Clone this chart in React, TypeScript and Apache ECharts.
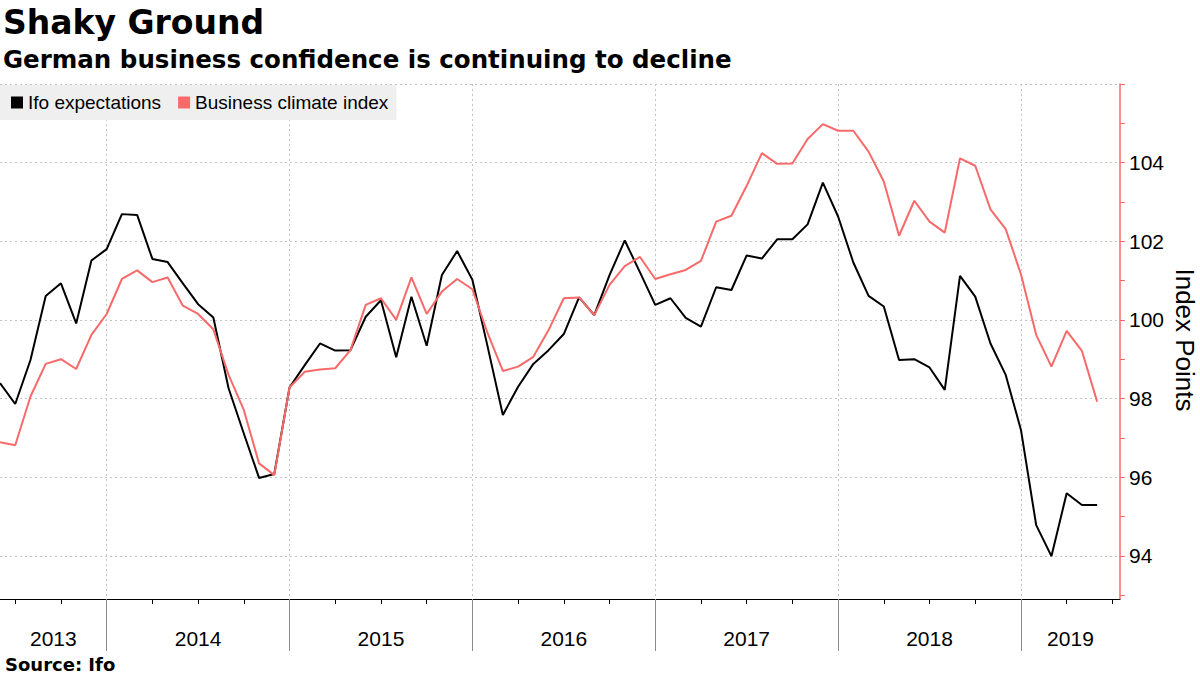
import React, { useEffect, useRef } from "react";
import * as echarts from "echarts";

const months = [
  "2013-05", "2013-06", "2013-07", "2013-08", "2013-09", "2013-10", "2013-11", "2013-12",
  "2014-01", "2014-02", "2014-03", "2014-04", "2014-05", "2014-06", "2014-07", "2014-08", "2014-09", "2014-10", "2014-11", "2014-12",
  "2015-01", "2015-02", "2015-03", "2015-04", "2015-05", "2015-06", "2015-07", "2015-08", "2015-09", "2015-10", "2015-11", "2015-12",
  "2016-01", "2016-02", "2016-03", "2016-04", "2016-05", "2016-06", "2016-07", "2016-08", "2016-09", "2016-10", "2016-11", "2016-12",
  "2017-01", "2017-02", "2017-03", "2017-04", "2017-05", "2017-06", "2017-07", "2017-08", "2017-09", "2017-10", "2017-11", "2017-12",
  "2018-01", "2018-02", "2018-03", "2018-04", "2018-05", "2018-06", "2018-07", "2018-08", "2018-09", "2018-10", "2018-11", "2018-12",
  "2019-01", "2019-02", "2019-03", "2019-04", "2019-05",
];

const ifoExpectations = [
  98.39, 97.86, 98.98, 100.61, 100.93, 99.91, 101.51, 101.8,
  102.69, 102.67, 101.55, 101.47, 100.93, 100.4, 100.06, 98.26, 97.11, 95.98, 96.08, 98.28,
  98.85, 99.4, 99.22, 99.23, 100.08, 100.5, 99.05, 100.59, 99.34, 101.14, 101.75, 101.02,
  99.32, 97.58, 98.3, 98.88, 99.23, 99.64, 100.57, 100.12, 101.14, 102.02, 101.21, 100.38,
  100.55, 100.05, 99.83, 100.83, 100.76, 101.64, 101.56, 102.05, 102.05, 102.43, 103.49, 102.63,
  101.46, 100.61, 100.34, 98.98, 99.0, 98.79, 98.22, 101.12, 100.59, 99.4, 98.6, 97.2,
  94.78, 93.99, 95.59, 95.29, 95.29,
];

const businessClimate = [
  96.89, 96.81, 98.05, 98.88, 99.0, 98.75, 99.62, 100.15,
  101.04, 101.26, 100.96, 101.08, 100.36, 100.15, 99.76, 98.6, 97.71, 96.35, 96.05, 98.28,
  98.68, 98.74, 98.77, 99.23, 100.38, 100.55, 100.0, 101.08, 100.15, 100.72, 101.04, 100.78,
  99.66, 98.7, 98.81, 99.06, 99.74, 100.55, 100.57, 100.12, 100.89, 101.37, 101.6, 101.04,
  101.16, 101.27, 101.5, 102.5, 102.65, 103.41, 104.24, 103.97, 103.98, 104.6, 104.98, 104.81,
  104.81, 104.28, 103.52, 102.14, 103.03, 102.5, 102.22, 104.11, 103.92, 102.81, 102.31, 101.16,
  99.62, 98.81, 99.72, 99.21, 97.92,
];

const yearLabels = ["2013", "2014", "2015", "2016", "2017", "2018", "2019"];
const yLabelValues = [94, 96, 98, 100, 102, 104];
const yGridValues = [94, 96, 98, 100, 102, 104, 106];
const yTickValues = [93, 94, 95, 96, 97, 98, 99, 100, 101, 102, 103, 104, 105, 106];

const RED = "#f86a6a";
const X_MIN = 5;
const X_MAX = 78.5;

// position of a month's end, in months from 1 Jan 2013
const monthEnd = (m: string) => {
  const [y, mo] = m.split("-").map(Number);
  return (y - 2013) * 12 + mo;
};

const yearStart = (label: string) => (Number(label) - 2013) * 12;
const yearBounds = yearLabels.slice(1).map(yearStart);
const yearMids = yearLabels.map((l) => {
  const a = Math.max(yearStart(l), X_MIN);
  const b = Math.min(yearStart(l) + 12, X_MAX);
  return (a + b) / 2;
});
const quarterTicks: number[] = [];
for (let q = 6; q <= X_MAX; q += 3) quarterTicks.push(q);

export default function App() {
  const ref = useRef<HTMLDivElement>(null);

  useEffect(() => {
    if (!ref.current) return;
    const chart = echarts.init(ref.current, undefined, { renderer: "svg" });
    const font = "Liberation Sans";
    const bold = "DejaVu Sans";
    chart.setOption({
      animation: false,
      backgroundColor: "#ffffff",
      textStyle: { fontFamily: font },
      grid: { left: 0, right: 80, top: 84, bottom: 76, containLabel: false },
      legend: {
        left: 0,
        top: 85,
        orient: "horizontal",
        backgroundColor: "#efefef",
        padding: [8, 8, 8, 11],
        itemGap: 17,
        itemWidth: 12,
        itemHeight: 12,
        icon: "rect",
        textStyle: { fontSize: 19, fontFamily: font, color: "#000" },
        data: ["Ifo expectations", "Business climate index"],
      },
      xAxis: [
        {
          type: "value",
          min: X_MIN,
          max: X_MAX,
          position: "bottom",
          axisLine: { show: true, onZero: false, lineStyle: { color: "#000", width: 1 } },
          axisTick: { show: true, customValues: quarterTicks, length: 5, lineStyle: { color: "#000" } },
          axisLabel: { show: false },
          splitLine: { show: false },
        },
        {
          type: "value",
          min: X_MIN,
          max: X_MAX,
          position: "bottom",
          axisLine: { show: false, onZero: false },
          axisTick: { show: true, customValues: yearBounds, length: 52, lineStyle: { color: "#8a8a8a" } },
          axisLabel: {
            show: true,
            customValues: yearMids,
            formatter: (v: number) => {
              const i = yearMids.findIndex((m) => Math.abs(m - v) < 1e-6);
              return i >= 0 ? yearLabels[i] : "";
            },
            fontSize: 21,
            fontFamily: font,
            color: "#000",
            margin: 29,
          },
          splitLine: { show: true, lineStyle: { color: "#c4c4c4", type: [2, 3], width: 1 } },
        },
      ],
      yAxis: [
        {
          type: "value",
          min: 92.9,
          max: 106,
          position: "right",
          axisLine: { show: true, lineStyle: { color: RED, width: 1.5 } },
          axisTick: { show: true, customValues: yTickValues, length: 5, lineStyle: { color: RED } },
          axisLabel: {
            show: true,
            customValues: yLabelValues,
            fontSize: 21,
            fontFamily: font,
            color: "#000",
            margin: 9,
          },
          splitLine: { show: false },
        },
        {
          type: "value",
          min: 92.9,
          max: 106,
          position: "right",
          axisLine: { show: false },
          axisTick: { show: false, customValues: yGridValues },
          axisLabel: { show: false },
          splitLine: { show: true, lineStyle: { color: "#c4c4c4", type: [2, 3], width: 1 } },
        },
      ],
      series: [
        {
          name: "Ifo expectations",
          type: "line",
          xAxisIndex: 0,
          yAxisIndex: 0,
          data: months.map((m, i) => [monthEnd(m), ifoExpectations[i]]),
          symbol: "none",
          showSymbol: false,
          lineStyle: { color: "#000", width: 2 },
          itemStyle: { color: "#000" },
        },
        {
          name: "Business climate index",
          type: "line",
          xAxisIndex: 0,
          yAxisIndex: 0,
          data: months.map((m, i) => [monthEnd(m), businessClimate[i]]),
          symbol: "none",
          showSymbol: false,
          lineStyle: { color: RED, width: 2 },
          itemStyle: { color: RED },
        },
      ],
      graphic: [
        {
          type: "text",
          left: 3,
          top: 6,
          style: { text: "Shaky Ground", font: `bold 33px '${bold}'`, fill: "#000" },
        },
        {
          type: "text",
          left: 3,
          top: 47,
          style: {
            text: "German business confidence is continuing to decline",
            font: `bold 24.5px '${bold}'`,
            fill: "#000",
          },
        },
        {
          type: "text",
          left: 5,
          top: 655,
          style: { text: "Source: Ifo", font: `bold 18px '${bold}'`, fill: "#000" },
        },
        {
          type: "text",
          x: 1185,
          y: 340,
          rotation: -Math.PI / 2,
          style: {
            text: "Index Points",
            font: `26px '${font}'`,
            fill: "#000",
            align: "center",
            verticalAlign: "middle",
          },
        },
      ],
    });
    return () => chart.dispose();
  }, []);

  return (
    <div
      ref={ref}
      style={{ position: "fixed", left: 0, top: 0, width: 1200, height: 675, background: "#fff" }}
    />
  );
}
